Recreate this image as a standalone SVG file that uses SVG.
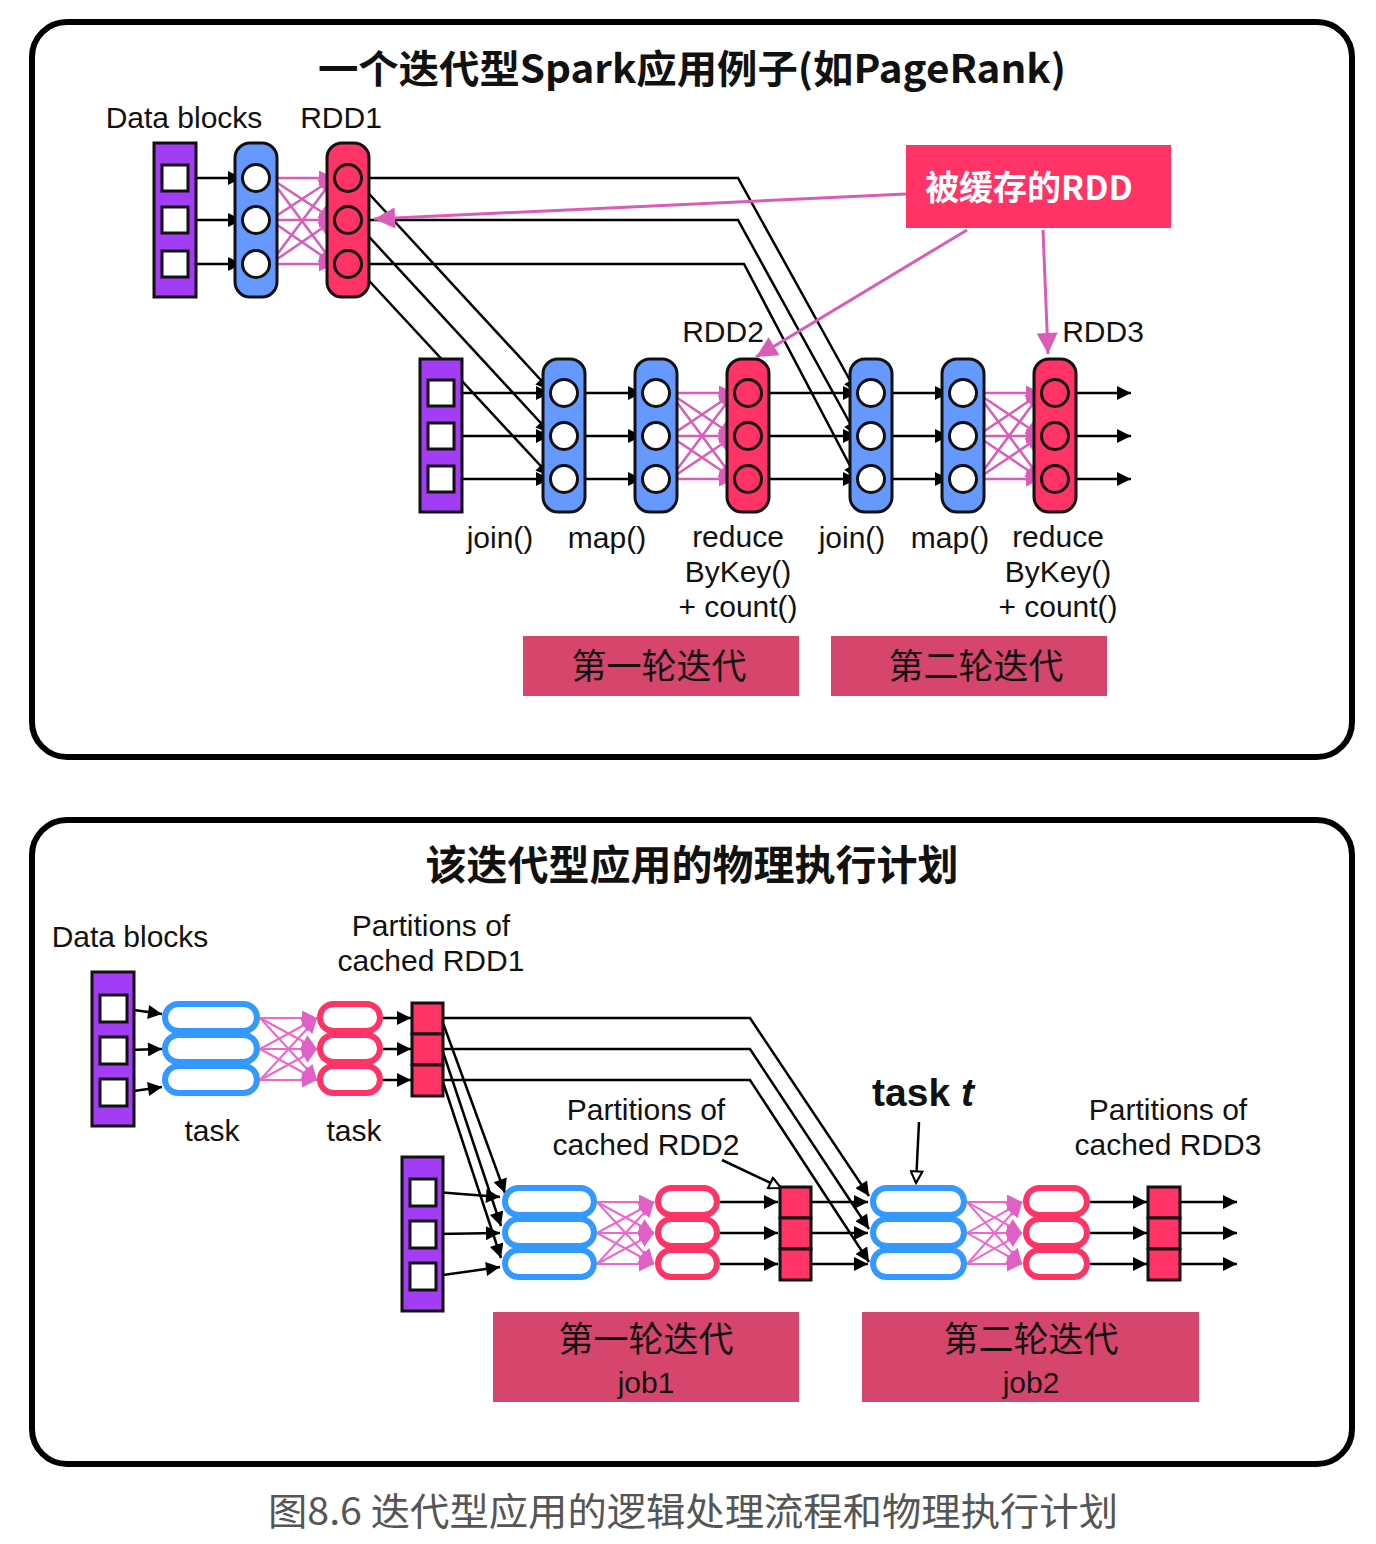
<svg xmlns="http://www.w3.org/2000/svg" width="1376" height="1544" viewBox="0 0 1376 1544">
<defs>
<style>
.lat{font-family:"Liberation Sans","Noto Sans CJK SC",sans-serif;font-size:30px;fill:#111;text-anchor:middle}
.cjk{font-family:"Noto Sans CJK SC","Liberation Sans",sans-serif;text-anchor:middle}
.panel{fill:none;stroke:#000;stroke-width:6}
.purple{fill:#A23CF5;stroke:#111;stroke-width:3}
.sq{fill:#fff;stroke:#111;stroke-width:3}
.blue{fill:#6699FF;stroke:#111;stroke-width:3}
.red{fill:#FF3366;stroke:#111;stroke-width:3}
.circ{fill:#fff;stroke:#111;stroke-width:3}
.rcirc{fill:#FF3366;stroke:#111;stroke-width:3}
.bpill{fill:#fff;stroke:#3399FF;stroke-width:6}
.rpill{fill:#fff;stroke:#FF3366;stroke-width:6}
.part{fill:#FF3366;stroke:#111;stroke-width:3}
.ba{fill:none;stroke:#000;stroke-width:2.5;marker-end:url(#ab)}
.pa{fill:none;stroke:#D85CB8;stroke-width:2.5;marker-end:url(#ap)}
.pa2{fill:none;stroke:#F066CC;stroke-width:2;marker-end:url(#ap2)}
.pb{fill:none;stroke:#D85CB8;stroke-width:3;marker-end:url(#apb)}
.ha{fill:none;stroke:#000;stroke-width:2.5;marker-end:url(#ah)}
.lbox{fill:#D6456B}
</style>
<marker id="ab" viewBox="0 0 10 10" refX="10" refY="5" markerWidth="18" markerHeight="14" markerUnits="userSpaceOnUse" orient="auto"><path d="M0,0 L10,5 L0,10 z" fill="#000"/></marker>
<marker id="ap" viewBox="0 0 10 10" refX="10" refY="5" markerWidth="19" markerHeight="15" markerUnits="userSpaceOnUse" orient="auto"><path d="M0,0 L10,5 L0,10 z" fill="#D85CB8"/></marker>
<marker id="ap2" viewBox="0 0 10 10" refX="10" refY="5" markerWidth="19" markerHeight="15" markerUnits="userSpaceOnUse" orient="auto"><path d="M0,0 L10,5 L0,10 z" fill="#E060C8"/></marker>
<marker id="apb" viewBox="0 0 10 10" refX="10" refY="5" markerWidth="27" markerHeight="21" markerUnits="userSpaceOnUse" orient="auto"><path d="M0,0 L10,5 L0,10 z" fill="#D85CB8"/></marker>
<marker id="ah" viewBox="0 0 12 12" refX="11" refY="6" markerWidth="16" markerHeight="14" markerUnits="userSpaceOnUse" orient="auto"><path d="M1,1 L11,6 L1,11 z" fill="#fff" stroke="#000" stroke-width="1.8"/></marker>
</defs>
<rect width="1376" height="1544" fill="#fff"/>

<!-- ================= TOP PANEL ================= -->
<rect class="panel" x="32" y="22" width="1320" height="735" rx="35"/>
<text x="692" y="83" class="cjk" font-size="39" font-weight="bold" fill="#111" textLength="748" lengthAdjust="spacingAndGlyphs">一个迭代型Spark应用例子(如PageRank)</text>

<g id="connectors-top">
  <path class="ba" d="M188,178 L242,178"/>
  <path class="ba" d="M188,220 L242,220"/>
  <path class="ba" d="M188,264 L242,264"/>
  <path class="pa" d="M270,178 L334,178"/><path class="pa" d="M270,178 L334,220"/><path class="pa" d="M270,178 L334,264"/>
  <path class="pa" d="M270,220 L334,178"/><path class="pa" d="M270,220 L334,220"/><path class="pa" d="M270,220 L334,264"/>
  <path class="pa" d="M270,264 L334,178"/><path class="pa" d="M270,264 L334,220"/><path class="pa" d="M270,264 L334,264"/>
  <path class="ba" d="M360,184 L550,390"/>
  <path class="ba" d="M360,227 L550,433"/>
  <path class="ba" d="M360,271 L550,476"/>
  <path class="ba" d="M362,178 L738,178 L857,393"/>
  <path class="ba" d="M362,220 L738,220 L857,436"/>
  <path class="ba" d="M362,264 L744,264 L857,479"/>
  <path class="ba" d="M454,393 L550,393"/>
  <path class="ba" d="M454,436 L550,436"/>
  <path class="ba" d="M454,479 L550,479"/>
  <path class="ba" d="M578,393 L642,393"/>
  <path class="ba" d="M578,436 L642,436"/>
  <path class="ba" d="M578,479 L642,479"/>
  <path class="pa" d="M670,393 L734,393"/><path class="pa" d="M670,393 L734,436"/><path class="pa" d="M670,393 L734,479"/>
  <path class="pa" d="M670,436 L734,393"/><path class="pa" d="M670,436 L734,436"/><path class="pa" d="M670,436 L734,479"/>
  <path class="pa" d="M670,479 L734,393"/><path class="pa" d="M670,479 L734,436"/><path class="pa" d="M670,479 L734,479"/>
  <path class="ba" d="M762,393 L857,393"/>
  <path class="ba" d="M762,436 L857,436"/>
  <path class="ba" d="M762,479 L857,479"/>
  <path class="ba" d="M885,393 L949,393"/>
  <path class="ba" d="M885,436 L949,436"/>
  <path class="ba" d="M885,479 L949,479"/>
  <path class="pa" d="M977,393 L1041,393"/><path class="pa" d="M977,393 L1041,436"/><path class="pa" d="M977,393 L1041,479"/>
  <path class="pa" d="M977,436 L1041,393"/><path class="pa" d="M977,436 L1041,436"/><path class="pa" d="M977,436 L1041,479"/>
  <path class="pa" d="M977,479 L1041,393"/><path class="pa" d="M977,479 L1041,436"/><path class="pa" d="M977,479 L1041,479"/>
  <path class="ba" d="M1069,393 L1131,393"/>
  <path class="ba" d="M1069,436 L1131,436"/>
  <path class="ba" d="M1069,479 L1131,479"/>
  <path class="pb" d="M906,194 L374,219"/>
  <path class="pb" d="M967,230 L756,357"/>
  <path class="pb" d="M1043,230 L1048,354"/>
</g>

<g id="data-blocks-1">
  <text x="184" y="128" class="lat">Data blocks</text>
  <rect class="purple" x="154" y="143" width="42" height="154"/>
  <rect class="sq" x="162" y="165" width="26" height="26"/>
  <rect class="sq" x="162" y="207" width="26" height="26"/>
  <rect class="sq" x="162" y="251" width="26" height="26"/>
</g>
<g id="blue-1">
  <rect class="blue" x="235" y="143" width="42" height="154" rx="15"/>
  <circle class="circ" cx="256" cy="178" r="13.5"/><circle class="circ" cx="256" cy="220" r="13.5"/><circle class="circ" cx="256" cy="264" r="13.5"/>
</g>
<g id="rdd1">
  <text x="341" y="128" class="lat">RDD1</text>
  <rect class="red" x="327" y="143" width="42" height="154" rx="15"/>
  <circle class="rcirc" cx="348" cy="178" r="13.5"/><circle class="rcirc" cx="348" cy="220" r="13.5"/><circle class="rcirc" cx="348" cy="264" r="13.5"/>
</g>
<g id="cached-label">
  <rect x="906" y="145" width="265" height="83" fill="#FF3366"/>
  <text x="1029" y="200" class="cjk" font-size="34" font-weight="bold" fill="#fff">被缓存的RDD</text>
</g>
<g id="data-blocks-2">
  <rect class="purple" x="420" y="359" width="42" height="153"/>
  <rect class="sq" x="428" y="380" width="26" height="26"/>
  <rect class="sq" x="428" y="423" width="26" height="26"/>
  <rect class="sq" x="428" y="466" width="26" height="26"/>
</g>
<g id="join-1">
  <rect class="blue" x="543" y="359" width="42" height="153" rx="15"/>
  <circle class="circ" cx="564" cy="393" r="13.5"/><circle class="circ" cx="564" cy="436" r="13.5"/><circle class="circ" cx="564" cy="479" r="13.5"/>
  <text x="500" y="548" class="lat">join()</text>
</g>
<g id="map-1">
  <rect class="blue" x="635" y="359" width="42" height="153" rx="15"/>
  <circle class="circ" cx="656" cy="393" r="13.5"/><circle class="circ" cx="656" cy="436" r="13.5"/><circle class="circ" cx="656" cy="479" r="13.5"/>
  <text x="607" y="548" class="lat">map()</text>
</g>
<g id="rdd2">
  <text x="723" y="342" class="lat">RDD2</text>
  <rect class="red" x="727" y="359" width="42" height="153" rx="15"/>
  <circle class="rcirc" cx="748" cy="393" r="13.5"/><circle class="rcirc" cx="748" cy="436" r="13.5"/><circle class="rcirc" cx="748" cy="479" r="13.5"/>
  <text x="738" y="547" class="lat">reduce</text>
  <text x="738" y="582" class="lat">ByKey()</text>
  <text x="738" y="617" class="lat">+ count()</text>
</g>
<g id="join-2">
  <rect class="blue" x="850" y="359" width="42" height="153" rx="15"/>
  <circle class="circ" cx="871" cy="393" r="13.5"/><circle class="circ" cx="871" cy="436" r="13.5"/><circle class="circ" cx="871" cy="479" r="13.5"/>
  <text x="852" y="548" class="lat">join()</text>
</g>
<g id="map-2">
  <rect class="blue" x="942" y="359" width="42" height="153" rx="15"/>
  <circle class="circ" cx="963" cy="393" r="13.5"/><circle class="circ" cx="963" cy="436" r="13.5"/><circle class="circ" cx="963" cy="479" r="13.5"/>
  <text x="950" y="548" class="lat">map()</text>
</g>
<g id="rdd3">
  <text x="1103" y="342" class="lat">RDD3</text>
  <rect class="red" x="1034" y="359" width="42" height="153" rx="15"/>
  <circle class="rcirc" cx="1055" cy="393" r="13.5"/><circle class="rcirc" cx="1055" cy="436" r="13.5"/><circle class="rcirc" cx="1055" cy="479" r="13.5"/>
  <text x="1058" y="547" class="lat">reduce</text>
  <text x="1058" y="582" class="lat">ByKey()</text>
  <text x="1058" y="617" class="lat">+ count()</text>
</g>
<g id="iter-1">
  <rect class="lbox" x="523" y="636" width="276" height="60"/>
  <text x="659" y="679" class="cjk" font-size="35" fill="#111">第一轮迭代</text>
</g>
<g id="iter-2">
  <rect class="lbox" x="831" y="636" width="276" height="60"/>
  <text x="976" y="679" class="cjk" font-size="35" fill="#111">第二轮迭代</text>
</g>

<!-- ================= BOTTOM PANEL ================= -->
<rect class="panel" x="32" y="820" width="1320" height="644" rx="35"/>
<text x="692" y="880" class="cjk" font-size="41" font-weight="bold" fill="#111">该迭代型应用的物理执行计划</text>

<g id="connectors-bottom">
  <path class="ba" d="M127,1009 L162,1014"/>
  <path class="ba" d="M127,1050 L162,1049"/>
  <path class="ba" d="M127,1092 L162,1087"/>
  <path class="pa2" d="M260,1018 L317,1018"/><path class="pa2" d="M260,1018 L317,1049"/><path class="pa2" d="M260,1018 L317,1080"/>
  <path class="pa2" d="M260,1049 L317,1018"/><path class="pa2" d="M260,1049 L317,1049"/><path class="pa2" d="M260,1049 L317,1080"/>
  <path class="pa2" d="M260,1080 L317,1018"/><path class="pa2" d="M260,1080 L317,1049"/><path class="pa2" d="M260,1080 L317,1080"/>
  <path class="ba" d="M383,1018 L411,1018"/>
  <path class="ba" d="M383,1049 L411,1049"/>
  <path class="ba" d="M383,1080 L411,1080"/>
  <path class="ba" d="M443,1018 L750,1018 L869,1196"/>
  <path class="ba" d="M443,1049 L750,1049 L869,1229"/>
  <path class="ba" d="M443,1080 L750,1080 L869,1262"/>
  <path class="ba" d="M443,1023 L505,1193"/>
  <path class="ba" d="M443,1052 L501,1226"/>
  <path class="ba" d="M443,1082 L501,1258"/>
  <path class="ba" d="M436,1192 L500,1197"/>
  <path class="ba" d="M436,1234 L500,1233"/>
  <path class="ba" d="M436,1276 L500,1267"/>
  <path class="pa2" d="M597,1202 L654,1202"/><path class="pa2" d="M597,1202 L654,1233"/><path class="pa2" d="M597,1202 L654,1264"/>
  <path class="pa2" d="M597,1233 L654,1202"/><path class="pa2" d="M597,1233 L654,1233"/><path class="pa2" d="M597,1233 L654,1264"/>
  <path class="pa2" d="M597,1264 L654,1202"/><path class="pa2" d="M597,1264 L654,1233"/><path class="pa2" d="M597,1264 L654,1264"/>
  <path class="ba" d="M720,1202 L778,1202"/>
  <path class="ba" d="M720,1233 L778,1233"/>
  <path class="ba" d="M720,1264 L778,1264"/>
  <path class="ba" d="M811,1202 L868,1202"/>
  <path class="ba" d="M811,1233 L868,1233"/>
  <path class="ba" d="M811,1264 L868,1264"/>
  <path class="pa2" d="M967,1202 L1022,1202"/><path class="pa2" d="M967,1202 L1022,1233"/><path class="pa2" d="M967,1202 L1022,1264"/>
  <path class="pa2" d="M967,1233 L1022,1202"/><path class="pa2" d="M967,1233 L1022,1233"/><path class="pa2" d="M967,1233 L1022,1264"/>
  <path class="pa2" d="M967,1264 L1022,1202"/><path class="pa2" d="M967,1264 L1022,1233"/><path class="pa2" d="M967,1264 L1022,1264"/>
  <path class="ba" d="M1090,1202 L1147,1202"/>
  <path class="ba" d="M1090,1233 L1147,1233"/>
  <path class="ba" d="M1090,1264 L1147,1264"/>
  <path class="ba" d="M1180,1202 L1237,1202"/>
  <path class="ba" d="M1180,1233 L1237,1233"/>
  <path class="ba" d="M1180,1264 L1237,1264"/>
  <path class="ha" d="M722,1160 L781,1188"/>
  <path class="ha" d="M919,1122 L916,1183"/>
</g>

<g id="p-data-blocks-1">
  <text x="130" y="947" class="lat">Data blocks</text>
  <rect class="purple" x="92" y="972" width="42" height="154"/>
  <rect class="sq" x="100" y="995" width="27" height="27"/>
  <rect class="sq" x="100" y="1037" width="27" height="27"/>
  <rect class="sq" x="100" y="1079" width="27" height="27"/>
</g>
<g id="p-task-blue-1">
  <rect class="bpill" x="165" y="1066" width="92" height="27" rx="13.5"/>
  <rect class="bpill" x="165" y="1035" width="92" height="27" rx="13.5"/>
  <rect class="bpill" x="165" y="1004" width="92" height="27" rx="13.5"/>
  <text x="212" y="1141" class="lat">task</text>
</g>
<g id="p-task-red-1">
  <rect class="rpill" x="320" y="1066" width="60" height="27" rx="13.5"/>
  <rect class="rpill" x="320" y="1035" width="60" height="27" rx="13.5"/>
  <rect class="rpill" x="320" y="1004" width="60" height="27" rx="13.5"/>
  <text x="354" y="1141" class="lat">task</text>
</g>
<g id="p-rdd1">
  <text x="431" y="936" class="lat">Partitions of</text>
  <text x="431" y="971" class="lat">cached RDD1</text>
  <rect class="part" x="412" y="1003" width="31" height="31"/>
  <rect class="part" x="412" y="1034" width="31" height="31"/>
  <rect class="part" x="412" y="1065" width="31" height="31"/>
</g>
<g id="p-data-blocks-2">
  <rect class="purple" x="402" y="1157" width="41" height="154"/>
  <rect class="sq" x="410" y="1179" width="26" height="27"/>
  <rect class="sq" x="410" y="1221" width="26" height="27"/>
  <rect class="sq" x="410" y="1263" width="26" height="27"/>
</g>
<g id="p-join1">
  <rect class="bpill" x="505" y="1250" width="89" height="27" rx="13.5"/>
  <rect class="bpill" x="505" y="1219" width="89" height="27" rx="13.5"/>
  <rect class="bpill" x="505" y="1188" width="89" height="27" rx="13.5"/>
</g>
<g id="p-reduce1">
  <rect class="rpill" x="658" y="1250" width="59" height="27" rx="13.5"/>
  <rect class="rpill" x="658" y="1219" width="59" height="27" rx="13.5"/>
  <rect class="rpill" x="658" y="1188" width="59" height="27" rx="13.5"/>
</g>
<g id="p-rdd2">
  <text x="646" y="1120" class="lat">Partitions of</text>
  <text x="646" y="1155" class="lat">cached RDD2</text>
  <rect class="part" x="780" y="1187" width="31" height="31"/>
  <rect class="part" x="780" y="1218" width="31" height="31"/>
  <rect class="part" x="780" y="1249" width="31" height="31"/>
</g>
<g id="p-join2">
  <text x="923" y="1106" font-family="Liberation Sans, sans-serif" font-size="39" font-weight="bold" fill="#111" text-anchor="middle">task <tspan font-style="italic">t</tspan></text>
  <rect class="bpill" x="873" y="1250" width="91" height="27" rx="13.5"/>
  <rect class="bpill" x="873" y="1219" width="91" height="27" rx="13.5"/>
  <rect class="bpill" x="873" y="1188" width="91" height="27" rx="13.5"/>
</g>
<g id="p-reduce2">
  <rect class="rpill" x="1026" y="1250" width="61" height="27" rx="13.5"/>
  <rect class="rpill" x="1026" y="1219" width="61" height="27" rx="13.5"/>
  <rect class="rpill" x="1026" y="1188" width="61" height="27" rx="13.5"/>
</g>
<g id="p-rdd3">
  <text x="1168" y="1120" class="lat">Partitions of</text>
  <text x="1168" y="1155" class="lat">cached RDD3</text>
  <rect class="part" x="1148" y="1187" width="32" height="31"/>
  <rect class="part" x="1148" y="1218" width="32" height="31"/>
  <rect class="part" x="1148" y="1249" width="32" height="31"/>
</g>
<g id="job1">
  <rect class="lbox" x="493" y="1312" width="306" height="90"/>
  <text x="646" y="1352" class="cjk" font-size="35" fill="#111">第一轮迭代</text>
  <text x="646" y="1393" class="lat" font-size="31">job1</text>
</g>
<g id="job2">
  <rect class="lbox" x="862" y="1312" width="337" height="90"/>
  <text x="1031" y="1352" class="cjk" font-size="35" fill="#111">第二轮迭代</text>
  <text x="1031" y="1393" class="lat" font-size="31">job2</text>
</g>

<text x="693" y="1525" class="cjk" font-size="38" fill="#555" textLength="850" lengthAdjust="spacingAndGlyphs">图8.6 迭代型应用的逻辑处理流程和物理执行计划</text>
</svg>
